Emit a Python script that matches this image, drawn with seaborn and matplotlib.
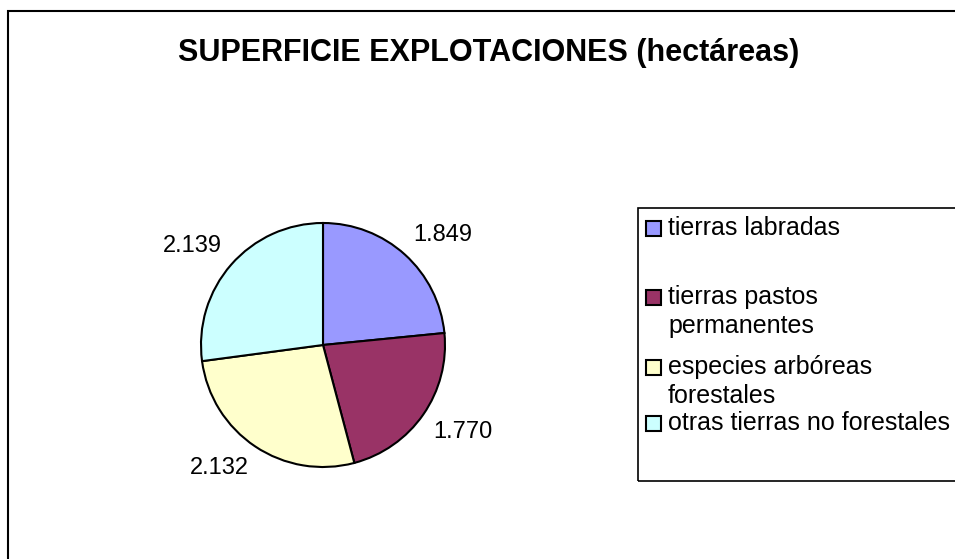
import matplotlib
matplotlib.use("Agg")
import matplotlib.pyplot as plt
import seaborn as sns
from matplotlib.patches import Rectangle

# data
categorias = ["tierras labradas", "tierras pastos\npermanentes",
              "especies arbóreas\nforestales", "otras tierras no forestales"]
hectareas = [1849, 1770, 2132, 2139]
colores = ["#9999FF", "#993366", "#FFFFCC", "#CCFFFF"]
titulo = "SUPERFICIE EXPLOTACIONES (hectáreas)"

sns.set_theme(style="white")
plt.rcParams["font.family"] = ["Liberation Sans", "DejaVu Sans"]

W, H = 955, 559
fig = plt.figure(figsize=(W / 100, H / 100), dpi=100)
fig.patch.set_facecolor("white")


def px(x, y):
    # pixel coords from top-left -> figure fraction
    return x / W, 1 - y / H


# outer chart border (runs off the right and bottom edges)
fig.patches.append(Rectangle(px(8, 600), 1000 / W, 589 / H, transform=fig.transFigure,
                             fill=False, edgecolor="black", linewidth=1.5))

fig.text(*px(489, 53), titulo, ha="center", va="center",
         fontsize=22, fontweight="bold", color="black")

# pie
cx, cy, r = 323, 345, 122
half = r * 1.5
ax = fig.add_axes([(cx - half) / W, (H - cy - half) / H, 2 * half / W, 2 * half / H])
etiquetas = [f"{v:,}".replace(",", ".") for v in hectareas]

wedges, textos = ax.pie(hectareas, colors=colores, startangle=90, counterclock=False,
                        labels=etiquetas, labeldistance=1.1,
                        wedgeprops=dict(edgecolor="black", linewidth=1.5))
for t in textos:
    t.set_fontsize(17)
    t.set_color("black")
    t.set_va("bottom" if t.get_position()[1] > 0 else "top")
ax.set_xlim(-1.5, 1.5)
ax.set_ylim(-1.5, 1.5)
ax.set_aspect("equal")
ax.axis("off")

# legend box
fig.patches.append(Rectangle(px(638, 481), 400 / W, (481 - 208) / H, transform=fig.transFigure,
                             fill=False, edgecolor="black", linewidth=1.2))
filas = [228, 297, 367, 423]
for lab, col, y in zip(categorias, colores, filas):
    fig.patches.append(Rectangle(px(646, y + 8), 15 / W, 15 / H, transform=fig.transFigure,
                                 facecolor=col, edgecolor="black", linewidth=1.5))
    for i, linea in enumerate(lab.split("\n")):
        fig.text(*px(668, y + i * 29), linea, ha="left", va="center",
                 fontsize=18, color="black")

fig.savefig("out.png", dpi=100)
